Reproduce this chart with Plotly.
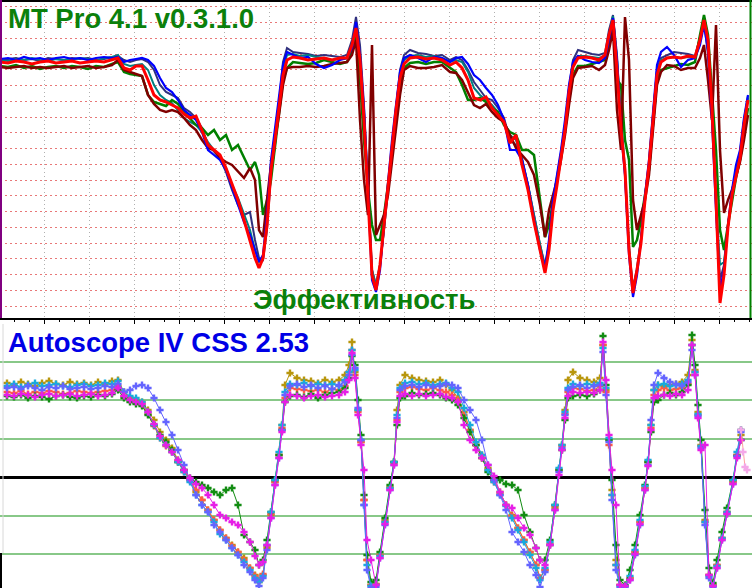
import plotly.graph_objects as go

# ---------------- top panel (MT Pro) ----------------
top_x = [0, 8, 16, 24, 32, 40, 48, 56, 64, 72, 80, 88, 96, 104, 112,
         118, 124, 130, 136, 142, 148, 154, 160, 166, 172, 178, 184, 190, 196, 202, 208, 214, 220, 226, 232, 238, 244, 250, 255, 259, 263, 267, 271, 275, 279, 283, 287,
         293, 300, 308, 316, 324, 332, 340, 347, 352, 356, 360, 364, 368, 372, 376, 380, 384, 388, 392, 396, 400, 404,
         410, 418, 426, 434, 442, 450, 456, 462, 468, 474, 480, 486, 492, 498, 504, 510, 516, 522, 528, 534, 540, 545, 549, 553, 557, 561, 565, 569, 573,
         578, 585, 592, 599, 605, 609, 613, 617, 621, 625, 629, 633, 637, 641, 645, 649, 653, 657, 661,
         667, 674, 681, 688, 695, 700, 704, 708, 712, 716, 720, 724, 728, 732, 736, 740, 744, 748]

top_red = [256, 255, 257, 256, 254, 256, 257, 255, 256, 257, 255, 256, 257, 256, 258,
           260, 250, 248, 252, 252, 238, 223, 218, 216, 213, 210, 204, 200, 202, 188, 173, 168, 163, 150, 133, 118, 98, 78, 60, 50, 60, 93, 148, 178, 213, 243, 258,
           261, 260, 258, 259, 260, 258, 260, 260, 273, 290, 258, 198, 118, 43, 28, 53, 93, 133, 173, 208, 240, 254,
           260, 261, 259, 260, 258, 253, 256, 250, 238, 220, 218, 221, 210, 203, 196, 175, 183, 153, 128, 96, 68, 45, 68, 108, 133, 163, 188, 226, 251,
           260, 261, 260, 258, 263, 283, 298, 248, 188, 148, 68, 25, 48, 75, 118, 153, 198, 243, 256,
           260, 261, 260, 262, 261, 278, 298, 278, 208, 118, 15, 43, 91, 123, 143, 160, 193, 218]

top_blue = [259, 260, 258, 261, 259, 260, 258, 260, 261, 259, 260, 258, 260, 261, 260,
            261, 256, 258, 259, 260, 258, 252, 240, 230, 226, 218, 208, 203, 198, 186, 168, 163, 158, 148, 130, 113, 96, 83, 68, 56, 63, 103, 158, 188, 223, 253, 266,
            263, 260, 261, 254, 250, 253, 258, 260, 270, 296, 263, 208, 128, 38, 26, 48, 93, 138, 178, 213, 246, 260,
            263, 260, 256, 261, 260, 256, 260, 261, 254, 243, 238, 230, 223, 213, 198, 168, 168, 158, 133, 98, 68, 50, 78, 118, 143, 168, 198, 233, 256,
            262, 258, 256, 255, 260, 278, 300, 258, 188, 143, 63, 21, 43, 78, 123, 158, 208, 253, 266,
            271, 263, 251, 258, 260, 273, 293, 268, 198, 108, 28, 48, 93, 128, 153, 168, 200, 223]

top_navy = [258, 259, 260, 258, 259, 257, 260, 259, 258, 260, 259, 260, 258, 259, 261,
            262, 258, 256, 258, 259, 256, 248, 233, 226, 223, 220, 210, 206, 200, 190, 173, 166, 160, 146, 128, 113, 103, 106, 78, 60, 58, 88, 143, 173, 218, 256, 270,
            266, 265, 264, 262, 263, 262, 261, 263, 278, 301, 273, 213, 123, 48, 33, 53, 88, 128, 168, 210, 248, 263,
            268, 265, 264, 262, 263, 258, 261, 258, 248, 236, 228, 220, 218, 210, 200, 178, 173, 160, 133, 103, 73, 53, 73, 113, 138, 163, 193, 230, 258,
            268, 266, 264, 263, 265, 288, 303, 263, 193, 143, 68, 30, 50, 78, 120, 153, 203, 248, 260,
            263, 266, 265, 264, 262, 280, 296, 263, 203, 113, 38, 53, 93, 123, 148, 163, 196, 220]

top_teal = [258, 257, 259, 258, 260, 258, 257, 259, 258, 258, 260, 259, 257, 260, 261,
            263, 254, 252, 253, 254, 248, 233, 223, 218, 215, 208, 200, 196, 193, 186, 176, 168, 160, 150, 133, 120, 103, 88, 68, 56, 60, 98, 153, 183, 218, 248, 263,
            264, 262, 263, 261, 260, 258, 259, 260, 268, 293, 263, 203, 123, 48, 33, 53, 88, 133, 173, 210, 243, 258,
            262, 263, 261, 262, 260, 256, 258, 256, 246, 230, 223, 218, 213, 206, 196, 183, 178, 158, 133, 103, 73, 50, 73, 113, 138, 166, 193, 228, 254,
            262, 262, 261, 260, 262, 283, 302, 258, 198, 148, 73, 28, 48, 80, 122, 156, 203, 248, 258,
            260, 261, 260, 261, 260, 276, 300, 273, 208, 118, 53, 56, 93, 126, 148, 166, 198, 222]

top_green = [252, 251, 253, 250, 252, 249, 251, 252, 250, 252, 251, 249, 252, 251, 254,
             256, 246, 244, 243, 242, 223, 216, 214, 212, 218, 214, 206, 200, 193, 190, 183, 188, 178, 183, 168, 173, 160, 148, 156, 143, 103, 118, 138, 173, 208, 238, 250,
             256, 255, 254, 255, 258, 256, 254, 256, 268, 283, 238, 178, 128, 93, 78, 78, 103, 133, 168, 198, 228, 250,
             255, 256, 254, 256, 256, 250, 246, 233, 218, 218, 220, 216, 210, 206, 193, 186, 183, 168, 168, 163, 118, 81, 93, 118, 140, 163, 188, 218, 243,
             252, 252, 254, 256, 258, 273, 293, 238, 233, 178, 158, 71, 78, 98, 123, 148, 193, 238, 248,
             250, 252, 254, 253, 256, 283, 303, 283, 228, 168, 88, 68, 93, 118, 140, 158, 183, 210]

top_darkred = [251, 250, 251, 252, 250, 251, 250, 251, 252, 250, 251, 252, 250, 251, 253,
               258, 248, 246, 244, 242, 223, 214, 208, 206, 208, 206, 200, 193, 188, 178, 170, 168, 160, 156, 153, 146, 140, 150, 138, 88, 81, 118, 153, 178, 203, 233, 250,
               251, 251, 252, 251, 252, 254, 255, 256, 263, 278, 198, 138, 103, 273, 83, 93, 103, 123, 158, 193, 223, 248,
               252, 250, 250, 251, 253, 246, 245, 238, 226, 213, 210, 214, 206, 200, 196, 183, 170, 163, 156, 143, 113, 81, 108, 123, 138, 158, 183, 213, 240,
               250, 251, 252, 248, 253, 268, 288, 208, 168, 301, 258, 118, 88, 103, 118, 143, 188, 233, 246,
               253, 252, 248, 250, 250, 260, 273, 238, 198, 293, 168, 105, 118, 128, 143, 156, 178, 203]

# ---------------- bottom panel (Autoscope) ----------------
bot_x = [7, 14, 21, 28, 35, 42, 49, 56, 63, 70, 77, 84, 91, 98, 105, 112,
         118, 124, 130, 136, 142, 148, 154, 160, 166, 172, 178, 184, 190, 196, 202, 208, 214, 220, 226, 232, 238, 244, 250, 255, 259, 263, 267, 271, 275, 279, 282, 285,
         290, 297, 304, 311, 318, 325, 332, 339, 345, 349, 352, 355, 358, 361, 364, 367, 371, 376, 380, 385, 390, 394, 397, 400,
         405, 412, 419, 426, 433, 440, 446, 452, 458, 464, 470, 476, 482, 488, 494, 500, 506, 512, 518, 524, 530, 536, 540, 545, 550, 555, 559, 562, 565, 568,
         573, 580, 587, 594, 600, 603, 606, 609, 612, 616, 620, 625, 630, 635, 640, 645, 648, 651, 654,
         658, 664, 670, 676, 682, 688, 692, 695, 698, 701, 705, 709, 713, 717, 722, 727, 733, 737, 741]

bot_gold = [94, 92, 95, 93, 91, 94, 96, 93, 92, 95, 93, 94, 92, 95, 93, 96,
            97, 85, 79, 77, 75, 67, 57, 45, 37, 29, 17, 7, -3, -15, -23, -33, -43, -53, -61, -68, -75, -81, -91, -98, -105, -98, -71, -38, -5, 22, 52, 92,
            104, 99, 97, 96, 94, 97, 95, 97, 102, 112, 135, 105, 67, 35, -23, -83, -108, -107, -78, -43, -10, 15, 67, 92,
            102, 99, 97, 96, 95, 97, 92, 87, 79, 65, 47, 32, 22, 9, -3, -15, -28, -38, -51, -63, -75, -88, -101, -93, -68, -31, 7, 32, 67, 97,
            105, 99, 97, 95, 99, 132, 87, 37, -13, -83, -108, -109, -101, -75, -45, -11, 15, 52, 87,
            92, 91, 92, 93, 95, 102, 137, 107, 65, 32, -43, -98, -108, -88, -61, -35, -5, 22, 42]

bot_cyan = [91, 93, 90, 92, 94, 91, 92, 93, 91, 90, 92, 93, 91, 92, 94, 93,
            96, 85, 81, 79, 75, 65, 52, 39, 32, 25, 15, 5, -5, -18, -28, -35, -45, -57, -63, -71, -78, -85, -93, -101, -105, -99, -68, -35, -3, 25, 52, 85,
            93, 92, 94, 91, 93, 92, 93, 91, 97, 105, 127, 107, 67, 37, -28, -88, -109, -108, -79, -45, -11, 15, 62, 89,
            94, 95, 93, 94, 92, 93, 94, 89, 85, 69, 52, 35, 22, 7, -5, -18, -29, -41, -53, -65, -78, -91, -103, -91, -65, -28, 9, 32, 65, 89,
            93, 91, 93, 92, 94, 129, 89, 39, -18, -88, -109, -109, -99, -73, -43, -9, 17, 52, 87,
            92, 93, 91, 92, 93, 97, 132, 105, 63, 31, -45, -99, -109, -89, -61, -35, -3, 25, 47]

bot_violet = [89, 90, 88, 91, 89, 87, 90, 89, 91, 88, 89, 90, 88, 89, 91, 90,
              93, 85, 87, 91, 92, 89, 79, 67, 55, 42, 27, 12, -3, -18, -28, -35, -48, -55, -63, -71, -78, -88, -95, -103, -109, -101, -73, -41, -8, 19, 47, 82,
              91, 93, 90, 92, 89, 91, 88, 92, 95, 102, 122, 109, 69, 37, -28, -93, -111, -110, -81, -48, -13, 12, 59, 87,
              91, 92, 90, 92, 90, 91, 93, 92, 89, 77, 67, 57, 37, 12, -3, -18, -33, -55, -65, -75, -88, -98, -110, -95, -68, -33, 5, 29, 62, 87,
              90, 92, 89, 91, 92, 125, 82, 35, -23, -93, -111, -110, -103, -78, -48, -13, 12, 57, 92,
              104, 99, 95, 93, 91, 95, 127, 102, 61, 29, -48, -101, -110, -91, -63, -37, -7, 21, 45]

bot_green = [81, 80, 82, 79, 81, 80, 78, 81, 82, 80, 79, 81, 80, 82, 81, 83,
             87, 79, 75, 73, 71, 62, 52, 42, 35, 27, 15, 7, -1, -5, -8, -11, -15, -18, -13, -11, -28, -58, -65, -73, -88, -83, -63, -35, -3, 22, 47, 75,
             81, 82, 80, 83, 79, 82, 84, 85, 89, 99, 121, 112, 77, 42, -18, -78, -105, -103, -75, -41, -8, 15, 52, 79,
             81, 84, 82, 83, 84, 82, 79, 77, 72, 59, 45, 32, 19, 5, -3, -3, -7, -8, -13, -38, -55, -71, -83, -83, -63, -28, 7, 27, 57, 79,
             81, 82, 81, 83, 87, 141, 92, 37, -3, -68, -103, -108, -93, -68, -38, -8, 15, 45, 75,
             77, 82, 84, 82, 85, 92, 142, 112, 72, 37, -33, -91, -106, -83, -55, -31, -3, 21, 37]

bot_orange = [85, 84, 86, 83, 85, 84, 86, 85, 83, 84, 86, 85, 84, 85, 86, 87,
              91, 81, 77, 75, 73, 63, 51, 39, 31, 25, 15, 5, -3, -13, -23, -33, -43, -53, -61, -69, -75, -83, -91, -99, -103, -97, -69, -37, -5, 22, 49, 79,
              89, 88, 87, 86, 87, 85, 88, 87, 91, 105, 127, 102, 65, 35, -23, -83, -108, -107, -78, -45, -11, 14, 57, 85,
              89, 90, 88, 87, 89, 87, 85, 82, 77, 62, 47, 32, 19, 7, -5, -17, -28, -39, -51, -63, -75, -88, -101, -93, -67, -29, 7, 31, 63, 85,
              89, 88, 86, 87, 91, 132, 85, 32, -18, -88, -108, -109, -101, -75, -45, -11, 15, 49, 82,
              87, 89, 87, 88, 89, 93, 132, 105, 62, 31, -45, -98, -108, -88, -61, -35, -5, 22, 47]

bot_magenta = [82, 81, 83, 82, 80, 82, 83, 81, 82, 83, 81, 82, 83, 81, 82, 84,
               89, 81, 77, 75, 73, 65, 53, 41, 32, 25, 17, 7, -1, -7, -11, -18, -28, -38, -41, -45, -48, -55, -65, -79, -88, -85, -68, -41, -8, 19, 45, 75,
               82, 81, 79, 81, 82, 80, 81, 82, 85, 97, 124, 99, 62, 32, 7, -63, -83, -108, -81, -47, -13, 12, 55, 81,
               83, 81, 83, 81, 82, 83, 80, 79, 75, 52, 37, 27, 19, 12, 1, -15, -28, -31, -41, -51, -58, -71, -83, -88, -68, -33, 2, 27, 59, 81,
               85, 84, 85, 84, 87, 135, 97, 42, 7, -28, -108, -109, -103, -77, -47, -13, 11, 47, 79,
               81, 82, 81, 83, 82, 87, 132, 102, 59, 27, 32, -98, -109, -91, -63, -37, -7, 19, 37]

tail_x = [741, 743, 745, 747]
tail_y = [47, 25, 10, 7]

top_series = [("navy", top_navy, "#30307e", 2), ("teal", top_teal, "#008080", 2),
              ("green", top_green, "#008000", 2.5), ("darkred", top_darkred, "#800000", 2.5),
              ("blue", top_blue, "#0000ff", 2.2), ("red", top_red, "#ff0000", 3)]
bot_series = [("gold", bot_gold, "#b8960c"), ("orange", bot_orange, "#ff5a46"),
              ("green", bot_green, "#128c12"), ("cyan", bot_cyan, "#18aadc"),
              ("violet", bot_violet, "#6464ff"), ("magenta", bot_magenta, "#e61ee6")]

for n, v, *_ in top_series:
    if len(v) != len(top_x):
        raise ValueError(f"top {n}: {len(v)} vs {len(top_x)}")
for n, v, _ in bot_series:
    if len(v) != len(bot_x):
        raise ValueError(f"bot {n}: {len(v)} vs {len(bot_x)}")

fig = go.Figure()
for n, v, c, w in top_series:
    fig.add_trace(go.Scatter(x=top_x, y=v, mode="lines", name=n,
                             line=dict(color=c, width=w), xaxis="x", yaxis="y",
                             showlegend=False, hoverinfo="skip"))
for n, v, c in bot_series:
    fig.add_trace(go.Scatter(x=bot_x, y=v, mode="lines+markers", name=n,
                             line=dict(color=c, width=1),
                             marker=dict(symbol="cross", size=6, color=c, line=dict(width=0)),
                             xaxis="x2", yaxis="y2", showlegend=False, hoverinfo="skip"))
fig.add_trace(go.Scatter(x=tail_x, y=tail_y, mode="lines+markers",
                         line=dict(color="#ffa0a0", width=1),
                         marker=dict(symbol="cross", size=6, color="#f4a8e8"),
                         xaxis="x2", yaxis="y2", showlegend=False, hoverinfo="skip"))

W, H = 752, 588
top_h = 318
bot_h = 266

fig.update_layout(
    width=W, height=H, margin=dict(l=0, r=0, t=0, b=0),
    paper_bgcolor="white", plot_bgcolor="white",
    xaxis=dict(domain=[0, 1], range=[0, 752], anchor="y",
               showgrid=True, gridcolor="#b0b0b0", griddash="1px,3px", gridwidth=1,
               tick0=-1, dtick=45, ticks="outside", ticklen=4, tickcolor="black",
               showticklabels=False, showline=True, linecolor="black", linewidth=2,
               zeroline=False,
               minor=dict(ticks="outside", dtick=15, tick0=-1, ticklen=2, tickcolor="black", showgrid=False)),
    yaxis=dict(domain=[1 - top_h / H, 1], range=[0, 318], anchor="x",
               showgrid=True, gridcolor="#e87878", griddash="2px,3px", gridwidth=1,
               tick0=12, dtick=15.74, showticklabels=False, zeroline=False, ticks=""),
    xaxis2=dict(domain=[0, 1], range=[0, 752], anchor="y2", showgrid=False,
                showticklabels=False, zeroline=False, showline=False, ticks=""),
    yaxis2=dict(domain=[0, bot_h / H], range=[-111, 155], anchor="x2",
                showgrid=True, gridcolor="#88c888", gridwidth=1.5,
                tick0=0, dtick=38.5, showticklabels=False, ticks="",
                zeroline=True, zerolinecolor="black", zerolinewidth=3),
    font=dict(family="Liberation Sans, Arial, sans-serif"),
)

shapes = [
    dict(type="line", xref="paper", yref="paper", x0=0, x1=1, y0=1 - 1 / H, y1=1 - 1 / H,
         line=dict(color="black", width=2)),
    dict(type="line", xref="paper", yref="paper", x0=1 / W, x1=1 / W, y0=1 - top_h / H, y1=1,
         line=dict(color="#800080", width=2)),
    dict(type="line", xref="paper", yref="paper", x0=750.5 / W, x1=750.5 / W, y0=1 - top_h / H, y1=1,
         line=dict(color="#008000", width=2)),
    dict(type="line", xref="paper", yref="paper", x0=3 / W, x1=3 / W, y0=(H - 553) / H, y1=(H - 324) / H,
         line=dict(color="#d8d8d8", width=1)),
    dict(type="line", xref="paper", yref="paper", x0=1 / W, x1=1 / W, y0=0, y1=(H - 553) / H,
         line=dict(color="black", width=2)),
]
fig.update_layout(shapes=shapes)

fig.add_annotation(text="<b>MT Pro 4.1 v0.3.1.0</b>", xref="paper", yref="paper",
                   x=6 / W, y=1 - 18.5 / H, xanchor="left", yanchor="middle", showarrow=False,
                   font=dict(size=27.5, color="#0b800b", family="Liberation Sans, Arial, sans-serif"))
fig.add_annotation(text="<b>Эффективность</b>", xref="paper", yref="paper",
                   x=364 / W, y=1 - 299 / H, xanchor="center", yanchor="middle", showarrow=False,
                   font=dict(size=27.5, color="#0b800b", family="Liberation Sans, Arial, sans-serif"))
fig.add_annotation(text="<b>Autoscope IV CSS 2.53</b>", xref="paper", yref="paper",
                   x=6 / W, y=1 - 342.5 / H, xanchor="left", yanchor="middle", showarrow=False,
                   font=dict(size=27.5, color="#0000e6", family="Liberation Sans, Arial, sans-serif"))

fig.write_html("out.html", config={"displayModeBar": False},
               post_script="document.body.style.margin='0';document.body.style.padding='0';")
